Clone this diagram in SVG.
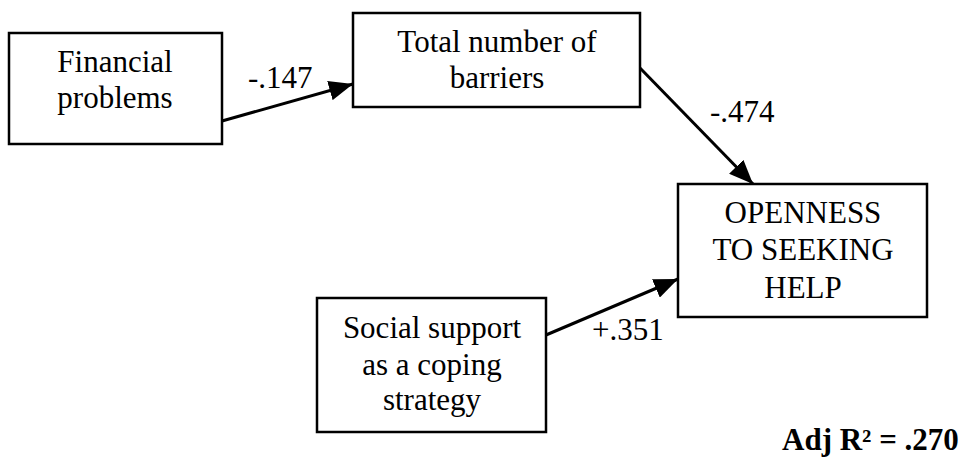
<svg xmlns="http://www.w3.org/2000/svg" width="967" height="458" viewBox="0 0 967 458" font-family="'Liberation Serif', 'Times New Roman', serif">
<style>
.box{fill:#fff;stroke:#000;stroke-width:2.5}
.t{font-size:31px;fill:#000;text-anchor:middle}
.lbl{font-size:31px;fill:#000}
.edge{stroke:#000;stroke-width:3;fill:none;marker-end:url(#ah)}
</style>
<defs>
<marker id="ah" viewBox="0 0 24 20" refX="24" refY="10" markerWidth="24" markerHeight="20" orient="auto" markerUnits="userSpaceOnUse">
<path d="M0,0 L24,10 L0,20 Z" fill="#000"/>
</marker>
</defs>
<rect width="967" height="458" fill="#fff"/>
<g id="connectors">
<line class="edge" x1="222" y1="121" x2="353" y2="84"/>
<line class="edge" x1="640" y1="68" x2="753" y2="184"/>
<line class="edge" x1="546" y1="335" x2="678" y2="279"/>
<text class="lbl" x="248" y="88" font-family="'Liberation Serif', serif">-.147</text>
<text class="lbl" x="710" y="122" font-family="'Liberation Serif', serif">-.474</text>
<text class="lbl" x="592" y="340" font-family="'Liberation Serif', serif">+.351</text>
</g>
<g id="financial" font-family="'Liberation Serif', serif">
<rect class="box" x="9" y="33" width="213" height="111"/>
<text class="t" x="115" y="72">Financial</text>
<text class="t" x="115" y="108">problems</text>
</g>
<g id="barriers" font-family="'Liberation Serif', serif">
<rect class="box" x="353" y="13" width="287" height="94"/>
<text class="t" x="497" y="52">Total number of</text>
<text class="t" x="497" y="88">barriers</text>
</g>
<g id="openness" font-family="'Liberation Serif', serif">
<rect class="box" x="678" y="184" width="249" height="133"/>
<text class="t" x="803" y="223">OPENNESS</text>
<text class="t" x="803" y="260">TO SEEKING</text>
<text class="t" x="803" y="298">HELP</text>
</g>
<g id="social" font-family="'Liberation Serif', serif">
<rect class="box" x="317" y="298" width="229" height="134"/>
<text class="t" x="432" y="338">Social support</text>
<text class="t" x="432" y="375">as a coping</text>
<text class="t" x="432" y="410">strategy</text>
</g>
<text id="adjr2" x="782" y="450" font-family="'Liberation Serif', serif" font-size="31" font-weight="bold">Adj R² = .270</text>
</svg>
